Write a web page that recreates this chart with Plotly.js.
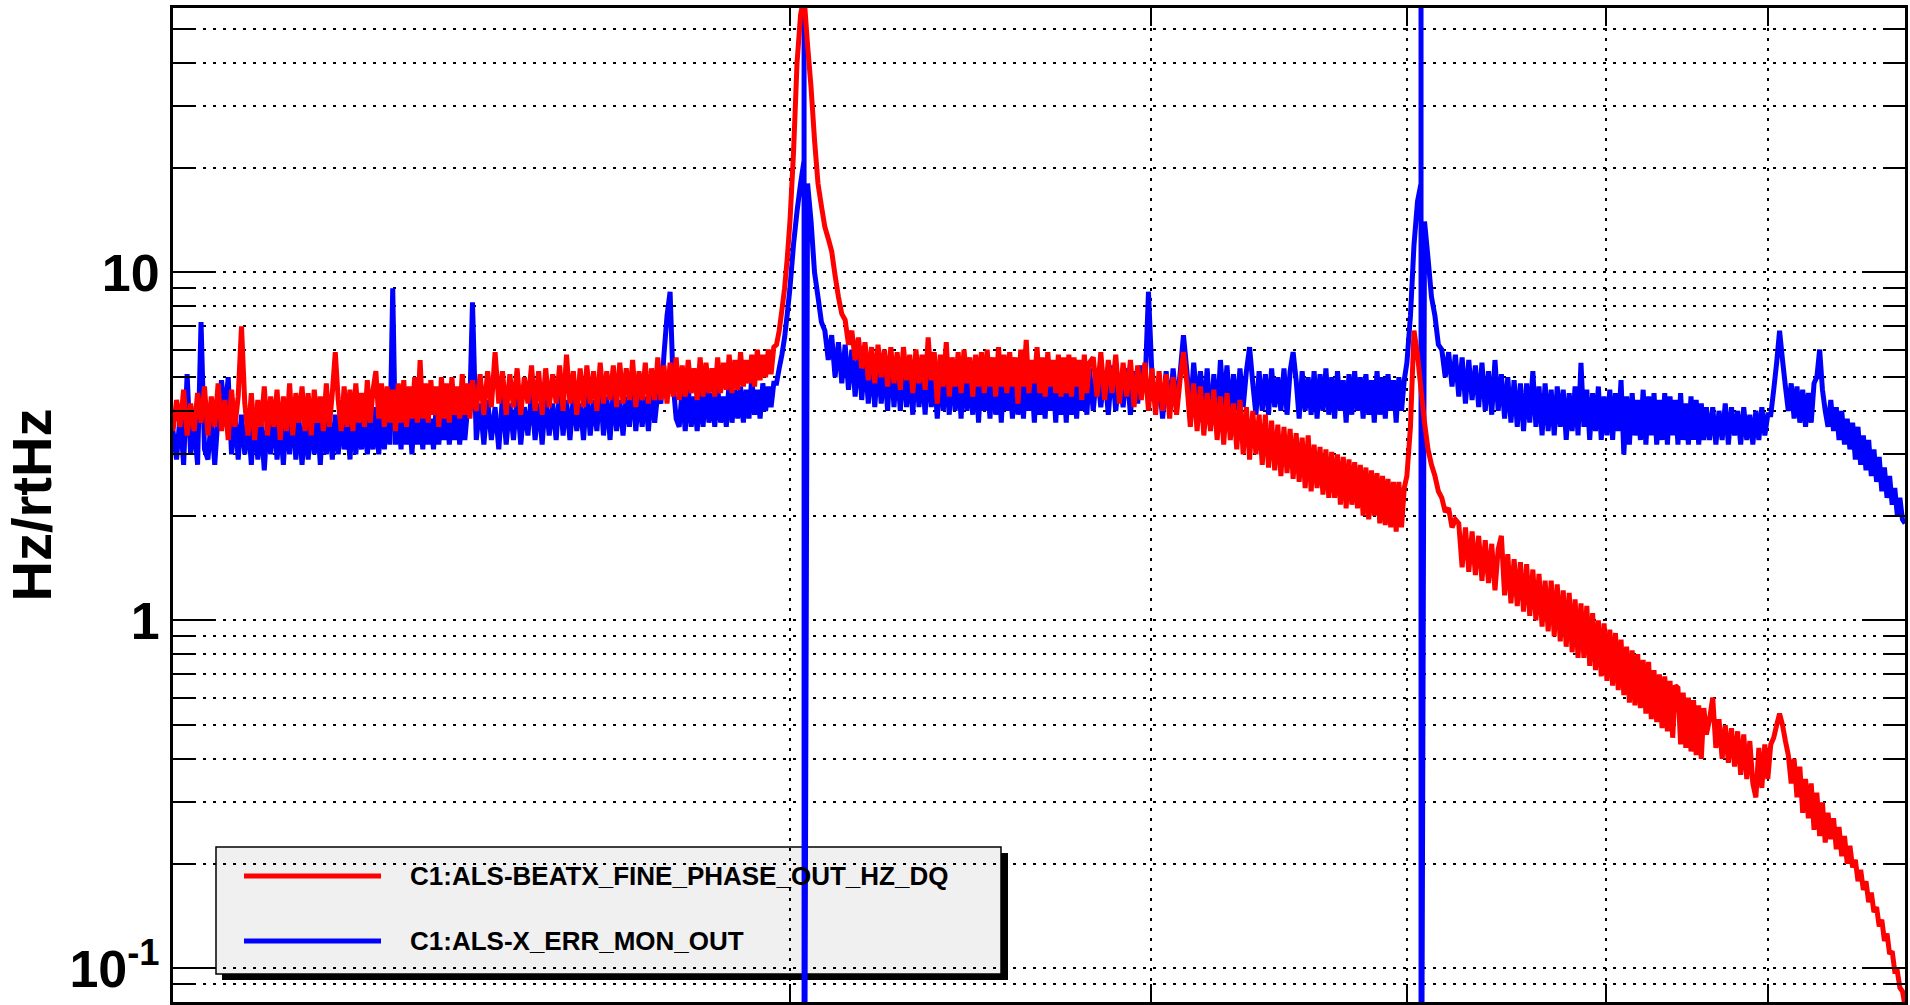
<!DOCTYPE html>
<html><head><meta charset="utf-8">
<script src="https://cdn.plot.ly/plotly-3.0.1.min.js"></script>
<style>html,body{margin:0;padding:0;background:#fff;}#chart{width:1910px;height:1005px;}</style>
</head><body><div id="chart"></div>
<script>
// Frequency bins (Hz)
const freq = [
100,100.4,100.8,101.2,101.6,102,102.4,102.8,103.2,103.6,
104,104.4,104.8,105.2,105.6,106,106.4,106.8,107.2,107.6,
108,108.4,108.8,109.2,109.6,110,110.4,110.8,111.2,111.6,
112,112.4,112.8,113.2,113.6,114,114.4,114.8,115.2,115.6,
116,116.4,116.8,117.2,117.6,118,118.4,118.8,119.2,119.6,
120,120.4,120.8,121.2,121.6,122,122.4,122.8,123.2,123.6,
124,124.4,124.8,125.2,125.6,126,126.4,126.8,127.2,127.6,
128,128.4,128.8,129.2,129.6,130,130.4,130.8,131.2,131.6,
132,132.4,132.8,133.2,133.6,134,134.4,134.8,135.2,135.6,
136,136.4,136.8,137.2,137.6,138,138.4,138.8,139.2,139.6,
140,
140.6,141.2,141.8,142.4,143,143.6,144.2,144.8,145.4,146,
146.6,147.2,147.8,148.4,149,149.6,150.2,150.8,151.4,152,
152.6,153.2,153.8,154.4,155,155.6,156.2,156.8,157.4,158,
158.6,159.2,159.8,160.4,161,161.6,162.2,162.8,163.4,164,
164.6,165.2,165.8,166.4,167,167.6,168.2,168.8,169.4,170,
170.6,171.2,171.8,172.4,173,173.6,174.2,174.8,175.4,176,
176.6,177.2,177.8,178.4,179,179.6,180.2,180.8,181.4,182,
182.6,183.2,183.8,184.4,185,185.6,186.2,186.8,187.4,188,
188.6,189.2,189.8,190.4,191,191.6,192.2,192.8,193.4,194,
194.6,195.2,195.8,196.4,197,197.6,198.2,198.8,199.4,200,
200.8,201.6,202.4,203.2,203.2,203.2,204,204.8,205.6,206.4,207.2,208,208.8,209.6,210.4,211.2,212,212.8,213.6,214.4,215.2,216,
216.8,217.6,218.4,219.2,220,220.8,221.6,222.4,223.2,224,
224.8,225.6,226.4,227.2,228,228.8,229.6,230.4,231.2,232,
232.8,233.6,234.4,235.2,236,236.8,237.6,238.4,239.2,240,
240.8,241.6,242.4,243.2,244,244.8,245.6,246.4,247.2,248,
248.8,249.6,250.4,251.2,252,252.8,253.6,254.4,255.2,256,
256.8,257.6,258.4,259.2,260,260.8,261.6,262.4,263.2,264,
264.8,265.6,266.4,267.2,268,268.8,269.6,270.4,271.2,272,
272.8,273.6,274.4,275.2,276,276.8,277.6,278.4,279.2,280,
281.2,282.4,283.6,284.8,286,287.2,288.4,289.6,290.8,292,
293.2,294.4,295.6,296.8,298,299.2,300.4,301.6,302.8,304,
305.2,306.4,307.6,308.8,310,311.2,312.4,313.6,314.8,316,
317.2,318.4,319.6,320.8,322,323.2,324.4,325.6,326.8,328,
329.2,330.4,331.6,332.8,334,335.2,336.4,337.6,338.8,340,
341.2,342.4,343.6,344.8,346,347.2,348.4,349.6,350.8,352,
353.2,354.4,355.6,356.8,358,359.2,360.4,361.6,362.8,364,
365.2,366.4,367.6,368.8,370,371.2,372.4,373.6,374.8,376,
377.2,378.4,379.6,380.8,382,383.2,384.4,385.6,386.8,388,
389.2,390.4,391.6,392.8,394,395.2,396.4,397.6,398.8,400,
401.6,403.2,404.8,406.4,406.4,406.4,408,409.6,411.2,412.8,414.4,416,417.6,419.2,420.8,422.4,
424,425.6,427.2,428.8,430.4,432,433.6,435.2,436.8,438.4,
440,441.6,443.2,444.8,446.4,448,449.6,451.2,452.8,454.4,
456,457.6,459.2,460.8,462.4,464,465.6,467.2,468.8,470.4,
472,473.6,475.2,476.8,478.4,480,481.6,483.2,484.8,486.4,
488,489.6,491.2,492.8,494.4,496,497.6,499.2,500.8,502.4,
504,505.6,507.2,508.8,510.4,512,513.6,515.2,516.8,518.4,
520,521.6,523.2,524.8,526.4,528,529.6,531.2,532.8,534.4,
536,537.6,539.2,540.8,542.4,544,545.6,547.2,548.8,550.4,
552,553.6,555.2,556.8,558.4,560,
562,564,566,568,570,572,574,576,578,580,
582,584,586,588,590,592,594,596,598,600,
602,604,606,608,610,612,614,616,618,620,
622,624,626,628,630,632,634,636,638,640,
642,644,646,648,650,652,654,656,658,660,
662,664,666,668,670,672,674,676,678,680,
682,684,686,688,690,692,694,696,698,700
];

// C1:ALS-BEATX_FINE_PHASE_OUT_HZ_DQ (red), Hz/rtHz
const beatxFinePhase = [
3.5,4.3,3.6,4.6,3.4,4.2,3.5,4.5,3.7,4.7,
3.4,4.4,3.6,4.8,3.5,4.3,3.3,4.6,3.6,4.4,
7.0,4.2,3.4,4.5,3.3,4.3,3.6,4.7,3.4,4.4,
3.6,4.6,3.3,4.4,3.5,4.8,3.4,4.5,3.7,4.7,
3.5,4.5,3.4,4.6,3.7,4.4,3.5,4.8,3.6,4.5,
5.9,4.3,3.5,4.7,3.6,4.6,3.5,4.8,3.7,4.5,
3.6,4.9,3.7,4.6,5.2,3.8,4.8,3.6,4.7,3.7,
4.6,3.5,4.8,3.7,4.9,3.6,4.7,3.8,5.0,3.7,
5.6,3.8,4.8,3.7,4.9,3.9,4.7,3.6,5.0,3.8,
4.8,3.7,5.0,3.9,4.7,3.8,5.1,3.9,4.8,3.8,
4.9,
4.0,5.1,3.9,5.2,4.1,5.9,4.2,5.2,3.9,5.1,
4.1,5.3,3.9,5.0,4.2,5.4,4.0,5.2,3.9,5.3,
4.1,5.1,4.2,5.4,4.0,5.8,4.2,5.2,3.9,5.3,
4.1,5.4,4.2,5.2,4.0,5.5,4.2,5.2,4.3,5.4,
4.1,5.5,4.2,5.3,4.3,5.6,4.1,5.2,4.3,5.5,
4.2,5.3,4.3,5.7,4.3,5.4,4.2,5.5,4.4,5.7,
4.3,5.4,4.4,5.6,4.5,5.3,4.3,5.7,4.4,5.5,
4.5,5.3,4.4,5.7,4.5,5.5,4.6,5.8,4.5,5.6,
4.6,5.9,4.7,5.6,4.8,5.8,4.7,6.0,4.9,5.8,
5.0,6.0,5.1,6.1,6.2,6.8,7.8,9.0,11,14,
22,40,55,62,62,62,45,34,24,18,15.5,13.5,12.5,11.5,9.8,8.5,7.6,7.3,6.2,6.8,5.6,6.5,
5.3,6.3,4.9,6.1,4.8,6.2,5.0,6.0,4.7,6.1,
4.8,5.9,4.6,6.1,4.9,5.8,4.5,6.0,4.8,5.8,
4.6,6.5,4.9,5.9,4.2,5.8,4.7,6.3,4.4,5.7,
4.7,5.9,4.5,6.0,4.8,5.7,4.4,5.8,4.7,5.9,
4.5,6.0,4.7,5.7,4.4,6.1,4.7,5.8,4.5,5.9,
4.7,5.7,4.2,6.0,4.7,6.4,4.5,5.6,4.8,6.1,
4.5,5.7,4.4,5.9,4.7,5.6,4.5,5.8,4.4,5.7,
4.5,5.8,4.4,5.7,4.7,5.6,4.3,5.8,4.5,5.5,
5.7,4.4,5.9,4.3,5.6,4.5,5.8,4.2,5.5,4.4,
5.6,4.1,5.4,4.3,5.5,4.0,5.3,3.9,5.2,4.0,
5.1,3.8,5.0,3.9,4.9,5.9,4.8,3.6,4.8,3.5,
4.7,3.4,4.5,3.5,4.6,3.3,4.4,3.2,4.5,3.3,
4.2,3.1,4.3,3.0,4.1,2.9,4.0,3.0,3.9,2.8,
3.9,2.75,3.75,2.7,3.65,2.6,3.6,2.65,3.55,2.55,
3.45,2.5,3.35,2.4,3.4,2.35,3.2,2.4,3.15,2.3,
3.1,2.25,3.05,2.25,3.0,2.15,2.95,2.1,2.9,2.15,
2.85,2.1,2.8,2.0,2.75,1.95,2.7,2.0,2.65,1.9,
2.6,1.88,2.55,1.85,2.5,1.8,2.5,1.85,2.4,2.6,
3.6,6.8,5.8,4.6,4.6,4.6,3.7,3.1,2.8,2.6,2.35,2.25,2.05,2.1,1.85,1.95,
1.9,1.42,1.85,1.38,1.8,1.35,1.75,1.3,1.7,1.28,
1.66,1.22,1.6,1.75,1.18,1.55,1.12,1.5,1.1,1.47,
1.06,1.45,1.03,1.4,1.0,1.36,0.96,1.3,0.93,1.3,
0.9,1.27,0.87,1.22,0.84,1.2,0.81,1.15,0.78,1.12,
0.78,1.1,0.74,1.05,0.72,1.0,0.69,0.98,0.67,0.94,
0.65,0.92,0.63,0.88,0.61,0.84,0.58,0.82,0.57,0.8,
0.56,0.77,0.54,0.76,0.52,0.72,0.51,0.7,0.49,0.69,
0.48,0.67,0.46,0.65,0.64,0.44,0.62,0.43,0.6,0.42,
0.59,0.41,0.57,0.4,0.56,0.47,
0.52,0.6,0.43,0.52,0.4,0.5,0.39,0.49,0.38,0.48,
0.36,0.47,0.35,0.45,0.34,0.31,0.43,0.33,0.44,0.35,
0.44,0.46,0.5,0.54,0.5,0.45,0.41,0.34,0.4,0.31,
0.38,0.28,0.35,0.27,0.34,0.25,0.32,0.24,0.3,0.23,
0.28,0.235,0.27,0.22,0.255,0.21,0.24,0.2,0.225,0.195,
0.205,0.178,0.192,0.168,0.178,0.155,0.165,0.145,0.15,0.132,
0.138,0.12,0.126,0.11,0.112,0.098,0.098,0.088,0.086,0.078
];

// C1:ALS-X_ERR_MON_OUT (blue), Hz/rtHz
const xErrMon = [
3.5,2.9,3.9,2.8,5.1,3.0,3.7,2.8,7.2,3.1,
2.9,3.8,2.8,3.9,4.9,3.9,5.0,3.0,3.9,2.9,
3.9,3.0,3.8,2.8,3.9,2.9,3.7,2.7,3.8,3.0,
4.0,2.9,3.7,2.8,3.9,3.0,4.1,2.9,3.8,2.8,
3.7,2.9,3.9,3.0,3.8,2.8,4.0,3.0,3.8,2.9,
3.9,3.0,4.0,3.1,3.7,2.9,4.1,3.0,3.8,3.1,
4.0,3.0,3.8,3.1,4.1,3.0,3.9,3.1,4.0,3.2,
9.0,3.2,4.0,3.1,4.1,3.2,3.9,3.0,4.1,3.2,
3.9,3.1,4.2,3.2,3.8,3.1,4.1,3.2,4.0,3.3,
4.3,3.2,3.9,3.3,4.2,3.2,4.1,3.3,4.0,4.3,
8.2,
3.3,4.2,3.2,4.3,3.3,4.1,3.1,4.4,3.2,4.2,
3.3,4.4,3.2,4.1,3.4,4.5,3.3,4.2,3.2,4.4,
3.4,4.2,3.3,4.6,3.4,4.3,3.3,4.4,3.5,4.2,
3.3,4.5,3.4,4.3,3.5,4.7,3.4,4.4,3.3,4.6,
3.5,4.3,3.4,4.4,3.6,4.8,3.5,4.5,3.6,4.4,
3.5,4.6,3.7,4.5,4.2,5.8,7.5,8.8,4.8,3.8,
3.6,4.6,3.5,4.7,3.6,4.4,3.5,4.6,3.6,4.8,
3.7,4.5,3.6,4.7,3.7,4.4,3.6,4.9,3.7,4.6,
3.8,4.7,3.7,4.6,3.8,5.0,3.9,4.6,3.8,4.8,
4.0,4.7,4.1,4.8,4.8,5.3,5.8,6.5,7.6,9,
12,15,18,21,1000,0.01,18,14,10,8.5,7.2,6.8,5.6,6.6,5.0,6.3,4.8,6.2,4.6,6.0,4.4,5.9,
4.3,5.7,4.2,5.5,4.1,5.6,4.2,5.4,4.0,5.8,
4.1,5.4,4.0,5.5,4.1,5.2,3.9,5.6,4.1,5.3,
3.9,5.6,4.1,5.2,3.8,5.4,4.0,5.1,3.9,5.5,
4.0,5.2,3.8,5.5,4.0,5.1,3.9,5.4,3.7,5.2,
4.0,5.0,3.8,5.4,3.9,5.1,3.7,5.3,4.0,5.0,
3.8,5.3,3.9,5.1,3.8,5.4,4.0,5.0,3.7,5.2,
3.9,5.0,3.8,5.5,4.0,5.1,3.7,5.2,3.9,5.0,
3.7,5.2,3.9,5.0,3.8,5.1,4.0,5.0,3.9,5.3,
4.0,5.3,4.1,5.2,3.9,5.4,4.0,5.1,4.1,5.3,
3.9,5.2,4.2,5.4,4.6,8.8,5.0,4.1,4.9,3.8,
5.2,4.0,5.3,4.1,5.1,6.6,5.2,4.0,5.5,4.2,
5.2,3.9,5.3,3.6,5.1,3.8,5.6,4.1,5.4,3.9,
5.1,4.0,5.3,4.1,5.2,6.1,4.8,3.9,5.2,4.0,
5.1,3.9,5.3,4.1,5.0,4.0,5.3,3.9,5.2,5.9,
4.9,3.8,5.2,4.0,5.0,3.9,5.2,3.8,5.1,4.0,
5.3,3.9,5.0,3.8,5.2,4.0,4.9,3.7,5.1,3.9,
5.2,4.0,5.0,3.8,5.1,3.9,4.9,3.7,5.2,3.9,
5.0,3.8,5.1,4.0,4.9,3.7,5.0,4.0,4.9,5.5,
7.5,12,16,18,1000,0.01,14,11,8.5,7.5,6.2,6.0,5.0,5.9,4.7,5.8,
4.4,5.7,4.2,5.6,4.3,5.4,4.1,5.5,4.0,5.2,
3.9,5.6,4.0,5.1,3.8,5.0,3.7,4.9,3.6,4.8,
3.5,4.8,3.7,5.2,3.6,4.7,3.4,4.8,3.5,4.6,
3.4,4.7,3.6,4.6,3.3,4.5,3.5,4.7,3.4,5.5,
3.6,4.6,3.3,4.5,3.5,4.7,3.3,4.4,3.4,4.6,
3.3,4.5,3.5,4.9,3.0,4.4,3.2,4.5,3.4,4.3,
3.3,4.6,3.2,4.4,3.4,4.5,3.2,4.3,3.3,4.5,
3.2,4.4,3.4,4.3,3.2,4.5,3.3,4.2,3.2,4.4,
3.3,4.3,3.2,4.2,3.3,4.1,
3.3,4.1,3.2,4.0,3.3,4.2,3.2,4.1,3.4,4.0,
3.2,4.1,3.3,3.9,3.2,4.0,3.3,4.1,3.4,3.9,
3.9,4.6,5.5,6.8,5.6,4.7,4.0,4.8,3.8,4.7,
3.7,4.6,3.6,4.5,3.7,4.8,5.0,6.0,4.6,4.0,
3.6,4.3,3.5,4.1,3.3,4.0,3.2,3.8,3.1,3.7,
2.9,3.6,2.8,3.4,2.7,3.3,2.6,3.1,2.5,2.95,
2.35,2.75,2.25,2.6,2.15,2.4,2.0,2.25,1.95,1.9
];

const seriesNames = ['C1:ALS-BEATX_FINE_PHASE_OUT_HZ_DQ', 'C1:ALS-X_ERR_MON_OUT'];
const seriesColors = ['#ff0000', '#0000ff'];
const yTitle = 'Hz/rtHz';
const yTickVals = [0.1, 1, 10];
const yTickText = ['10<sup>-1</sup>', '1', '10'];
const yMinorVals = [0.09,0.2,0.3,0.4,0.5,0.6,0.7,0.8,0.9,2,3,4,5,6,7,8,9,20,30,40,50];
const xGridVals = [200, 300, 400, 500, 600];
const xRangeHz = [100, 700];
const yRangeLog = [-1.0966, 1.7598];

const W = 1910, H = 1005;
const M = {l: 173, r: 5, t: 8, b: 3};
const PW = W - M.l - M.r, PH = H - M.t - M.b;
const px = v => (v - M.l) / PW;
const py = v => (H - M.b - v) / PH;

const fam = 'Liberation Sans, Arial, sans-serif';
const traces = [
  {x: freq, y: xErrMon, type: 'scatter', mode: 'lines', name: seriesNames[1],
   line: {color: seriesColors[1], width: 5, simplify: false}, showlegend: false, hoverinfo: 'skip'},
  {x: freq, y: beatxFinePhase, type: 'scatter', mode: 'lines', name: seriesNames[0],
   line: {color: seriesColors[0], width: 5, simplify: false}, showlegend: false, hoverinfo: 'skip'}
];

const gridStyle = {showgrid: true, gridcolor: '#000', gridwidth: 2, griddash: '3px,7px'};
const layout = {
  width: W, height: H, margin: M,
  paper_bgcolor: '#fff', plot_bgcolor: '#fff', showlegend: false,
  xaxis: Object.assign({
    type: 'log', range: [Math.log10(xRangeHz[0]), Math.log10(xRangeHz[1])],
    tickmode: 'array', tickvals: xGridVals, showticklabels: false,
    ticks: 'inside', ticklen: 18, tickwidth: 2, tickcolor: '#000',
    showline: true, linecolor: '#000', linewidth: 3, mirror: 'allticks', zeroline: false
  }, gridStyle),
  yaxis: Object.assign({
    type: 'log', range: yRangeLog,
    tickmode: 'array', tickvals: yTickVals, ticktext: yTickText,
    ticks: 'inside', ticklen: 43, tickwidth: 2, tickcolor: '#000',
    tickfont: {family: fam, size: 52, weight: 'bold', color: '#000'},
    ticklabelstandoff: 0,
    showline: true, linecolor: '#000', linewidth: 3, mirror: 'allticks', zeroline: false,
    title: {text: yTitle, font: {family: fam, size: 56, weight: 'bold', color: '#000'}, standoff: 21},
    minor: Object.assign({tickmode: 'array', tickvals: yMinorVals, ticks: 'inside', ticklen: 21, tickwidth: 2, tickcolor: '#000'}, gridStyle)
  }, gridStyle),
  shapes: [
    {type: 'rect', xref: 'paper', yref: 'paper', x0: px(222), x1: px(1008), y0: py(980), y1: py(853),
     fillcolor: '#000', line: {width: 0}, layer: 'between'},
    {type: 'rect', xref: 'paper', yref: 'paper', x0: px(216), x1: px(1001), y0: py(974), y1: py(847),
     fillcolor: '#f0f0f0', line: {color: '#000', width: 1.5}, layer: 'between'},
    {type: 'line', xref: 'paper', yref: 'paper', x0: px(244), x1: px(381), y0: py(876), y1: py(876),
     line: {color: seriesColors[0], width: 5}, layer: 'between'},
    {type: 'line', xref: 'paper', yref: 'paper', x0: px(244), x1: px(381), y0: py(941), y1: py(941),
     line: {color: seriesColors[1], width: 5}, layer: 'between'}
  ],
  annotations: [
    {xref: 'paper', yref: 'paper', x: px(408), y: py(876), xanchor: 'left', yanchor: 'middle', showarrow: false,
     text: seriesNames[0], font: {family: fam, size: 26, weight: 'bold', color: '#000'}},
    {xref: 'paper', yref: 'paper', x: px(408), y: py(941), xanchor: 'left', yanchor: 'middle', showarrow: false,
     text: seriesNames[1], font: {family: fam, size: 26, weight: 'bold', color: '#000'}}
  ]
};

Plotly.newPlot('chart', traces, layout, {displayModeBar: false, staticPlot: true});
</script>
</body></html>
